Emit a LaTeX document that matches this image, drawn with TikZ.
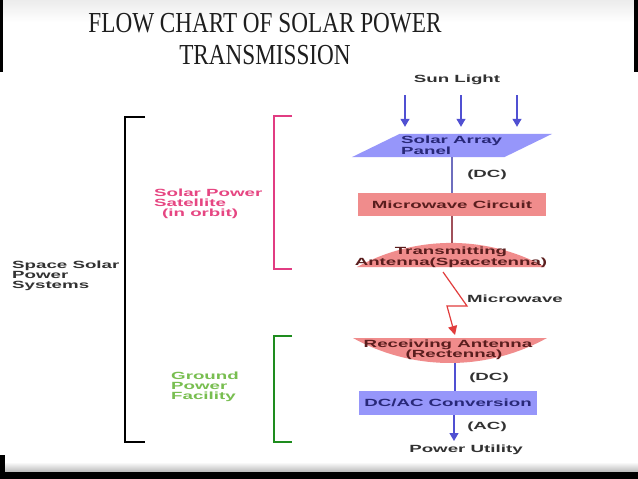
\documentclass[tikz,border=0pt]{standalone}
\usepackage{fontspec}
\setmainfont{Liberation Serif}
\newfontfamily\wf{Liberation Sans}[FakeStretch=1.8]
\newfontfamily\tf{Liberation Serif}[FakeStretch=0.8]
\usetikzlibrary{arrows.meta}
\definecolor{bluefill}{RGB}{150,150,250}
\definecolor{redfill}{RGB}{240,140,140}
\definecolor{navytext}{RGB}{40,40,120}
\definecolor{maroontext}{RGB}{90,30,30}
\definecolor{arrowblue}{RGB}{80,80,210}
\definecolor{lineblue}{RGB}{110,110,190}
\definecolor{linered}{RGB}{160,80,90}
\definecolor{arrowred}{RGB}{225,60,60}
\definecolor{bracketpink}{RGB}{225,60,130}
\definecolor{textpink}{RGB}{230,70,130}
\definecolor{bracketgreen}{RGB}{30,140,30}
\definecolor{textgreen}{RGB}{120,190,80}
\definecolor{sidegray}{RGB}{50,50,50}
\definecolor{titlegray}{RGB}{30,30,30}
\tikzset{
  titlestyle/.style={font=\tf\fontsize{29}{32}\selectfont, text=titlegray, inner sep=0pt},
  lbl/.style={font=\wf\bfseries\fontsize{10.4}{10}\selectfont, inner sep=0pt, text=sidegray},
  boxlbl/.style={font=\wf\bfseries\fontsize{10.4}{11}\selectfont, inner sep=0pt},
  flowbox/.style={boxlbl, minimum height=23pt},
  bluearr/.style={draw=arrowblue, line width=1.2pt, -{Triangle[width=9pt,length=8pt]}},
  bracket/.style={line width=2pt}
}
\begin{document}
\begin{tikzpicture}[x=1pt,y=-1pt]
\useasboundingbox (0,0) rectangle (638,479);
\fill[white] (0,0) rectangle (638,479);
% frame
\shade[top color=gray!15, bottom color=white] (3,0) rectangle (634,22);
\fill[black] (0,0) rectangle (3,72);
\fill[black] (634,0) rectangle (638,72);
\shade[top color=white, bottom color=gray!55] (0,462) rectangle (638,472);
\fill[black] (0,472) rectangle (638,479);
\fill[black] (0,455) rectangle (5,479);
% title
\node[titlestyle, anchor=base] (title1) at (265,32) {FLOW CHART OF SOLAR POWER};
\node[titlestyle, anchor=base] (title2) at (265,64) {TRANSMISSION};
% sun light
\node[lbl] (sun) at (457,80) {Sun Light};
\coordinate (s1) at (405,95);
\coordinate (s2) at (461,95);
\coordinate (s3) at (517,95);
% solar array panel
\node[minimum width=152pt, minimum height=23pt, inner sep=0pt] (panel) at (452,145.5) {};
\fill[bluefill] ([xshift=24pt]panel.north west) -- ([xshift=24pt]panel.north east)
  -- ([xshift=-24pt]panel.south east) -- ([xshift=-24pt]panel.south west) -- cycle;
\node[boxlbl, text=navytext, align=left, anchor=west, font=\wf\bfseries\fontsize{10.4}{9.5}\selectfont] (paneltxt) at (401,145.5) {Solar Array\\Panel};
\draw[bluearr, shorten >=7pt] (s1) -- (s1 |- panel.north);
\draw[bluearr, shorten >=7pt] (s2) -- (s2 |- panel.north);
\draw[bluearr, shorten >=7pt] (s3) -- (s3 |- panel.north);
% microwave circuit
\node[flowbox, fill=redfill, minimum width=188pt, text=maroontext] (mwc) at (452,204.5) {Microwave Circuit};
\draw[lineblue, line width=1.2pt] (panel.south) -- (mwc.north);
\node[lbl] (dc1) at (487,175) {(DC)};
% transmitting antenna
\fill[redfill] (357,267) arc[start angle=-118.7, end angle=-61.3, radius=196] -- cycle;
\coordinate (txtop) at (452,243);
\node[boxlbl, text=maroontext, align=center] (tx) at (451,257.5) {Transmitting\\Antenna(Spacetenna)};
\draw[linered, line width=1.2pt] (mwc.south) -- (txtop);
% microwave beam
\coordinate (mwA) at (443,272);
\coordinate (mwB) at (467,306);
\coordinate (mwC) at (447,306);
\coordinate (rxtop) at (455,335);
\draw[arrowred, line width=1.2pt, -{Triangle[width=9pt,length=9pt]}] (mwA) -- (mwB) -- (mwC) -- (rxtop);
\node[lbl] (mwlbl) at (515,299) {Microwave};
% receiving antenna
\fill[redfill] (353,338) arc[start angle=118.9, end angle=61.1, radius=200.7] -- cycle;
\node[boxlbl, text=maroontext, align=center, font=\wf\bfseries\fontsize{10.4}{10}\selectfont] (rx) at (448,350) {Receiving Antenna\\\hspace*{12pt}(Rectenna)};
\coordinate (rxbot) at (455,363);
% dc/ac conversion
\node[flowbox, fill=bluefill, minimum width=178pt, minimum height=24pt, text=navytext] (dcac) at (448,403) {DC/AC Conversion};
\draw[arrowblue, line width=1.2pt] (rxbot) -- (rxbot |- dcac.north);
\node[lbl] (dc2) at (489,378) {(DC)};
\node[lbl] (pu) at (466,449.5) {Power Utility};
\coordinate (acstart) at (454,415);
\draw[bluearr] (acstart) -- (454,441);
\node[lbl] (ac) at (487,427) {(AC)};
% side brackets and labels
\draw[bracket, black] (145,117) -- (125,117) -- (125,442) -- (145,442);
\node[lbl, align=left, anchor=west] (sss) at (12,276) {Space Solar\\Power\\Systems};
\draw[bracket, bracketpink] (292,116) -- (274,116) -- (274,269) -- (292,269);
\node[lbl, text=textpink, align=left, anchor=west] (sps) at (154,203.5) {Solar Power\\Satellite\\\hspace*{8pt}(in orbit)};
\draw[bracket, bracketgreen] (292,336) -- (274,336) -- (274,442) -- (292,442);
\node[lbl, text=textgreen, align=left, anchor=west] (gpf) at (171,386.5) {Ground\\Power\\Facility};
\end{tikzpicture}
\end{document}
